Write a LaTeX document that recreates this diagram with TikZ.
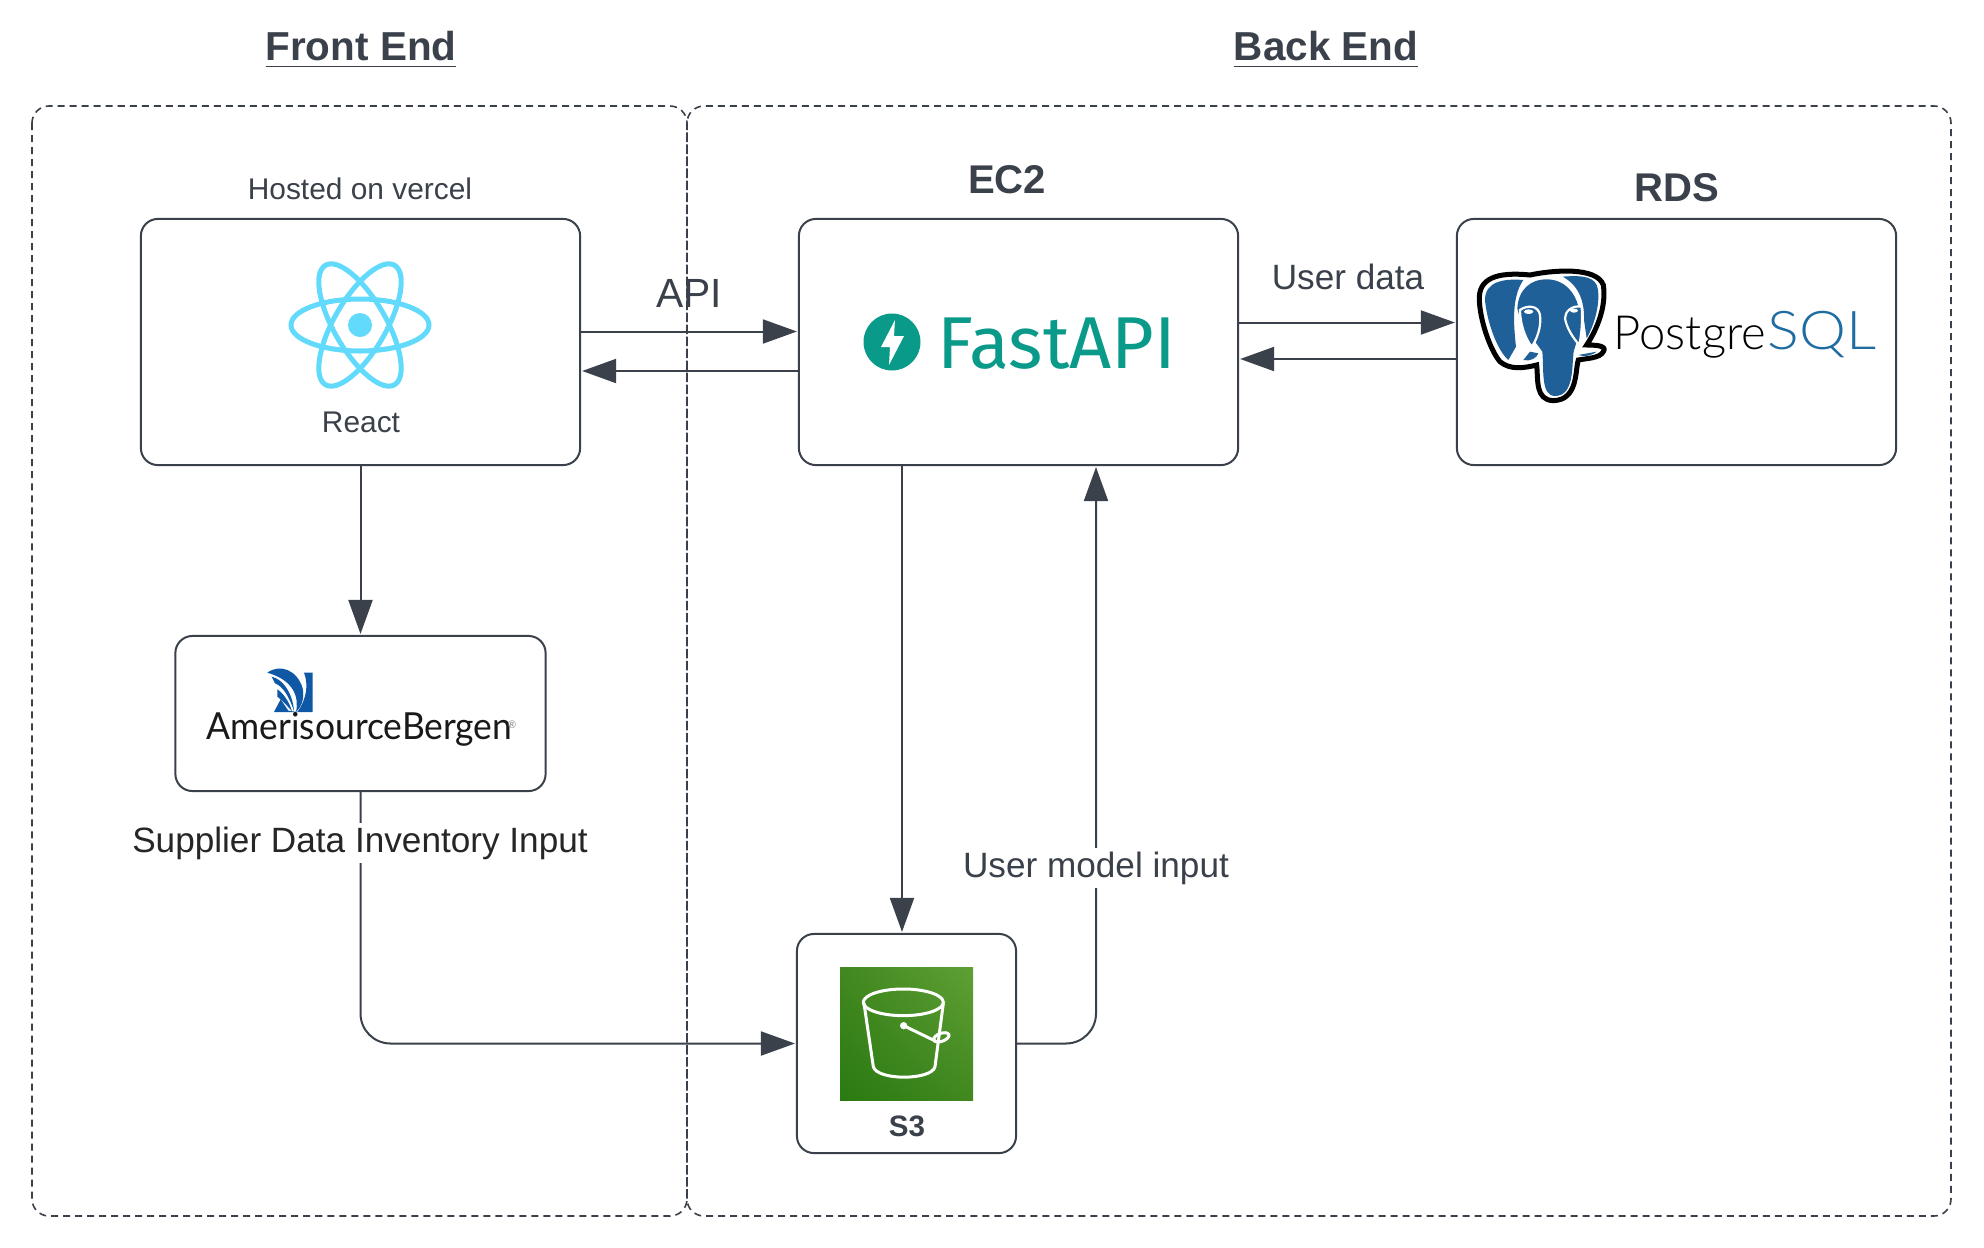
\documentclass[tikz,border=0pt]{standalone}
\usepackage{fontspec}
\setmainfont{Liberation Sans}
\newfontfamily\logofont{Lato}[UprightFont={* Light}]
\newfontfamily\amerifont{Lato}
\newfontfamily\fastfont{Fira Sans}
\usetikzlibrary{arrows.meta,calc,shadings}
\definecolor{slateline}{HTML}{3A414A}
\definecolor{reactblue}{HTML}{61DAFB}
\definecolor{fastgreen}{HTML}{0A9A8A}
\definecolor{pgblue}{HTML}{1F6098}
\definecolor{sqlblue}{HTML}{1F6CA3}
\definecolor{abblue}{HTML}{0F58A6}
\definecolor{bucketdark}{HTML}{2A7A12}
\definecolor{bucketmid}{HTML}{41881F}
\definecolor{bucketlight}{HTML}{5FA035}
\tikzset{
  boxnode/.style={draw=slateline, line width=0.02cm, rounded corners=0.17cm, fill=white, inner sep=0pt},
  frameline/.style={draw=slateline, line width=0.016cm, dash pattern=on 0.07cm off 0.05cm, rounded corners=0.17cm},
  flow/.style={draw=slateline, line width=0.02cm, -{Triangle[length=0.34cm,width=0.24cm]}, shorten >=0.01cm},
  label/.style={text=slateline, inner sep=0pt},
  small/.style={label, font=\fontsize{8.5}{10}\selectfont},
  medium/.style={label, font=\fontsize{10}{12}\selectfont},
  head/.style={label, font=\fontsize{11.4}{13}\selectfont\bfseries},
  title/.style={label, font=\fontsize{11.5}{14}\selectfont\bfseries},
}
\begin{document}
\begin{tikzpicture}[x=0.01cm, y=-0.01cm]
  \useasboundingbox (0,0) rectangle (1984,1248);
  % Section frames
  \draw[frameline] (32,106) rectangle (687,1216);
  \draw[frameline] (687,106) rectangle (1951,1216);
  \node[title] (frontlabel) at (361,50) {\underline{Front End}};
  \node[title] (backlabel) at (1326,50) {\underline{Back End}};
  % Boxes
  \node[boxnode, minimum width=4.39cm, minimum height=2.46cm] (react) at (360.5,342) {};
  \node[boxnode, minimum width=4.39cm, minimum height=2.46cm] (fast) at (1018.5,342) {};
  \node[boxnode, minimum width=4.39cm, minimum height=2.46cm] (rds) at (1676.5,342) {};
  \node[boxnode, minimum width=3.70cm, minimum height=1.55cm] (ameri) at (360.5,713.5) {};
  \node[boxnode, minimum width=2.19cm, minimum height=2.19cm] (sthree) at (906.5,1043.5) {};
  % Connectors
  \draw[flow] (react.east |- 0,331.5) -- (fast.west |- 0,331.5);
  \draw[flow] (fast.west |- 0,371) -- (react.east |- 0,371);
  \draw[flow] (fast.east |- 0,322.5) -- (rds.west |- 0,322.5);
  \draw[flow] (rds.west |- 0,359) -- (fast.east |- 0,359);
  \draw[flow] (react.south) -- (ameri.north);
  \draw[flow] (fast.south -| 902,0) -- (sthree.north -| 902,0);
  \draw[flow, rounded corners=0.3cm] (ameri.south) |- (sthree.west);
  \draw[flow, rounded corners=0.3cm] (sthree.east) -| (fast.south -| 1096,0);
  % Labels
  \node[small] (hostedlabel) at (360,189) {Hosted on vercel};
  \node[small] (reactlabel) at (361,422) {React};
  \node[head] (ectwolabel) at (1007,180) {EC2};
  \node[head] (rdslabel) at (1677,188) {RDS};
  \node[label, font=\fontsize{11.6}{14}\selectfont] (apilabel) at (689,293) {API};
  \node[medium] (userdatalabel) at (1348,277) {User data};
  \node[medium, fill=white, inner sep=0.04cm] (modellabel) at (1096,868) {User model input};
  \node[medium, text=black!85, fill=white, inner sep=0.04cm] (supplierlabel) at (360,843) {Supplier Data Inventory Input};
  \node[label, font=\fontsize{8.4}{10}\selectfont\bfseries] (sthreelabel) at (907,1126) {S3};
  % React logo
  \foreach \tilt in {0,60,120}
    \draw[reactblue, line width=0.05cm, rotate around={\tilt:(360,325)}] (360,325) ellipse [x radius=69, y radius=26];
  \fill[reactblue] (360,325) circle [radius=12];
  % FastAPI logo
  \fill[fastgreen] (892,342) circle [radius=28.5];
  \fill[white] (895,320) -- (881,347) -- (890,347) -- (889,365) -- (904,336) -- (894,336) -- cycle;
  \node[anchor=base west, inner sep=0pt, text=fastgreen, font=\fontsize{20.9}{24}\selectfont\fastfont] (fastlogo) at (937,368) {FastAPI};
  % PostgreSQL logo
  \begin{scope}[shift={(1440,210)}, scale=0.3333]
    \draw[black, line width=0.05cm, fill=white] (118,270) .. controls (115,205) and (170,185) .. (270,195)
      .. controls (340,180) and (470,170) .. (490,225) .. controls (500,290) and (470,360) .. (440,405)
      .. controls (480,405) and (500,410) .. (490,425) .. controls (480,445) and (440,445) .. (415,450)
      .. controls (405,480) and (415,570) .. (340,572) .. controls (285,570) and (295,510) .. (290,465)
      .. controls (250,475) and (210,480) .. (180,455) .. controls (150,420) and (120,330) .. (118,270) -- cycle;
    \fill[pgblue] (135,270) .. controls (135,215) and (190,205) .. (250,210)
      .. controls (215,260) and (220,340) .. (228,410) -- (205,450) .. controls (170,420) and (140,330) .. (135,270) -- cycle;
    \fill[pgblue] (368,200) .. controls (430,195) and (470,200) .. (474,240)
      .. controls (480,290) and (460,350) .. (440,385) -- (432,330) .. controls (434,270) and (414,225) .. (368,200) -- cycle;
    \fill[pgblue] (320,208) .. controls (380,208) and (420,260) .. (420,330)
      .. controls (420,370) and (408,400) .. (401,425) .. controls (395,470) and (403,558) .. (345,558)
      .. controls (302,558) and (312,480) .. (307,425) .. controls (290,400) and (240,340) .. (232,295)
      .. controls (235,240) and (270,208) .. (320,208) -- cycle;
    \fill[pgblue] (250,450) .. controls (270,455) and (290,445) .. (295,430) -- (270,425) -- cycle;
    \fill[pgblue] (415,435) -- (470,425) .. controls (450,440) and (430,440) .. (415,435) -- cycle;
    \draw[white, line width=0.022cm, fill=pgblue] (240,300) .. controls (260,285) and (295,285) .. (300,315)
      .. controls (305,350) and (290,390) .. (275,410) .. controls (255,385) and (240,340) .. (240,300) -- cycle;
    \draw[white, line width=0.022cm, fill=pgblue] (425,290) .. controls (395,285) and (375,305) .. (375,325)
      .. controls (380,355) and (400,385) .. (418,405) .. controls (425,370) and (428,330) .. (425,290) -- cycle;
    \fill[white] (266,305) ellipse [x radius=14, y radius=7];
    \fill[white] (402,302) ellipse [x radius=12, y radius=6];
  \end{scope}
  \node[anchor=base west, inner sep=0pt, text=black, font=\fontsize{13.4}{15}\selectfont\logofont] (postgrelogo) at (1613,349.5) {Postgre};
  \node[anchor=base west, inner sep=0pt, text=sqlblue, font=\fontsize{15.2}{17}\selectfont\logofont] (sqllogo) at (1767,349.5) {\scalebox{1.11}[1]{SQL}};
  % AmerisourceBergen logo
  \begin{scope}[shift={(160,630)}, scale=0.3333]
    \fill[abblue] (432,128) -- (458,128) -- (458,246) -- (342,246) -- (362,208) -- (385,242) -- (412,246)
      .. controls (442,205) and (445,160) .. (432,128) -- cycle;
    \fill[abblue] (322,128) .. controls (360,100) and (412,120) .. (428,175)
      .. controls (434,205) and (425,230) .. (408,246) .. controls (418,200) and (400,150) .. (322,128) -- cycle;
    \fill[abblue] (335,140) .. controls (370,148) and (398,190) .. (402,243)
      .. controls (388,200) and (368,168) .. (345,160) -- cycle;
    \fill[abblue] (352,178) .. controls (370,190) and (388,215) .. (396,244)
      .. controls (380,225) and (365,210) .. (352,200) -- cycle;
  \end{scope}
  \node[anchor=base west, inner sep=0pt, text=black!90, font=\fontsize{10.6}{13}\selectfont\amerifont] (amerilogo) at (206,739.5)
    {\scalebox{0.95}[1]{AmerisourceBergen}};
  \node[inner sep=0pt, text=black!45, font=\fontsize{3}{4}\selectfont\amerifont] (ameriregister) at (512,725) {®};
  % S3 logo
  \shade[lower left=bucketdark, upper right=bucketlight, lower right=bucketmid, upper left=bucketmid] (840,967) rectangle (973,1100);
  \begin{scope}[shift={(780,920)}, scale=0.3333, white, line width=0.03cm]
    \draw (370,247) ellipse [x radius=120, y radius=40];
    \draw (252,250) -- (280,440) .. controls (290,482) and (455,482) .. (465,440) -- (490,250);
    \draw (371,317) -- (470,365);
    \draw[rotate around={20:(484,352)}] (484,352) ellipse [x radius=24, y radius=12];
    \fill (371,317) circle [radius=11];
  \end{scope}
\end{tikzpicture}
\end{document}
